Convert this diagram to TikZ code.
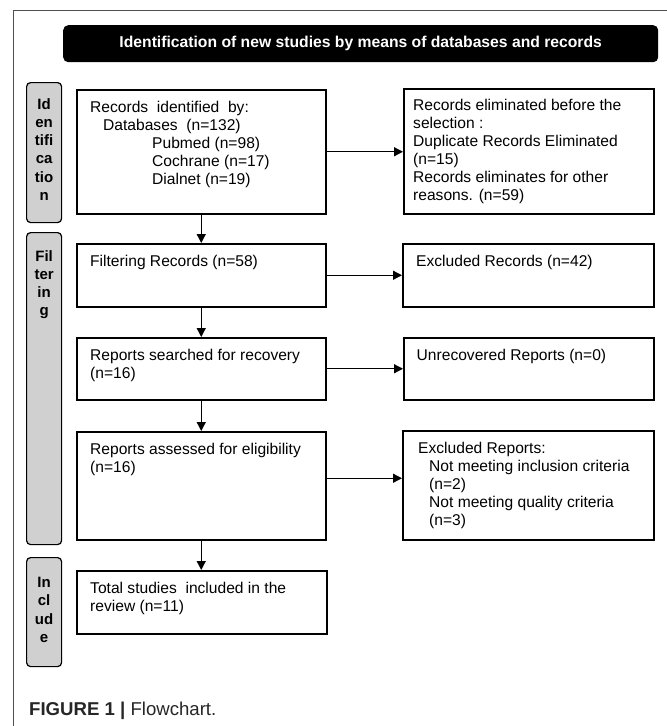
\documentclass[tikz,border=0pt]{standalone}
\usepackage{fontspec}
\setmainfont{Liberation Sans}
\usetikzlibrary{arrows.meta,calc}
\definecolor{phasegray}{HTML}{D0D0D0}
\definecolor{framegray}{HTML}{505050}
\tikzset{
  flowbox/.style={draw=black, line width=1.5pt, rectangle, anchor=north west, inner sep=0pt},
  phasebox/.style={draw=black, line width=1.2pt, fill=phasegray, rounded corners=4pt, rectangle, anchor=north west, inner sep=0pt, minimum width=35pt},
  bodytext/.style={anchor=north west, align=left, inner sep=0pt, font=\fontsize{15.6}{18}\selectfont},
  phasetext/.style={anchor=north, align=center, inner sep=0pt, font=\fontsize{15}{18.3}\selectfont\bfseries},
  flowarrow/.style={line width=1.3pt, -{Triangle[length=9pt,width=9pt]}},
}
\begin{document}
\begin{tikzpicture}[x=1pt,y=-1pt]
\useasboundingbox (0,0) rectangle (667,726);
% outer frame
\draw[framegray, line width=1pt] (13.5,726) -- (13.5,10) -- (667,10);
% header
\node[fill=black, rounded corners=5pt, anchor=north west, minimum width=595pt, minimum height=37pt, inner sep=0pt,
      text=white, font=\fontsize{15.7}{18}\selectfont\bfseries] (head) at (63,25)
      {Identification of new studies by means of databases and records};
% phase boxes
\node[phasebox, minimum height=140pt] (pid) at (26,82) {};
\node[phasebox, minimum height=312pt] (pfil) at (26,232) {};
\node[phasebox, minimum height=109pt] (pinc) at (26,557) {};
\node[phasetext] (tid) at ($(pid.north)+(0,16)$) {Id\\en\\tifi\\ca\\tio\\n};
\node[phasetext] (tfil) at ($(pfil.north)+(0,18)$) {Fil\\ter\\in\\g};
\node[phasetext] (tinc) at ($(pinc.north)+(0,20)$) {In\\cl\\ud\\e};
% main boxes
\node[flowbox, minimum width=249pt, minimum height=124pt] (rec) at (76,89) {};
\node[flowbox, minimum width=250pt, minimum height=125pt] (elim) at (403,88) {};
\node[flowbox, minimum width=249pt, minimum height=63pt] (filt) at (76,243) {};
\node[flowbox, minimum width=251pt, minimum height=63pt] (exrec) at (402,243) {};
\node[flowbox, minimum width=249pt, minimum height=62pt] (search) at (76,337) {};
\node[flowbox, minimum width=250pt, minimum height=62pt] (unrec) at (403,337) {};
\node[flowbox, minimum width=249pt, minimum height=108pt] (elig) at (76,431) {};
\node[flowbox, minimum width=251pt, minimum height=109pt] (exrep) at (402,430) {};
\node[flowbox, minimum width=250pt, minimum height=63pt] (total) at (76,570) {};
% texts
\node[bodytext] (trec) at (90,100.7) {Records~ identified~ by:\\
  \hspace*{13pt}Databases~ (n=132)\\
  \hspace*{62pt}Pubmed (n=98)\\
  \hspace*{62pt}Cochrane (n=17)\\
  \hspace*{62pt}Dialnet (n=19)};
\node[bodytext] (telim) at (413,98.7) {Records eliminated before the\\selection :\\Duplicate Records Eliminated\\(n=15)\\Records eliminates for other\\reasons. (n=59)};
\node[bodytext] (tfilt) at (90,254.7) {Filtering Records (n=58)};
\node[bodytext] (texrec) at (416,254.7) {Excluded Records (n=42)};
\node[bodytext] (tsearch) at (90,348.7) {Reports searched for recovery\\(n=16)};
\node[bodytext] (tunrec) at (416.5,348.7) {Unrecovered Reports (n=0)};
\node[bodytext] (telig) at (90,442.7) {Reports assessed for eligibility\\(n=16)};
\node[bodytext] (texrep) at (418,441.7) {Excluded Reports:\\
  \hspace*{11pt}Not meeting inclusion criteria\\
  \hspace*{11pt}(n=2)\\
  \hspace*{11pt}Not meeting quality criteria\\
  \hspace*{11pt}(n=3)};
\node[bodytext] (ttotal) at (90,581.7) {Total studies~ included in the\\review (n=11)};
% arrows
\draw[flowarrow] (rec.east) -- (rec.east -| elim.west);
\draw[flowarrow] (filt.east) -- (filt.east -| exrec.west);
\draw[flowarrow] (search.east) -- (search.east -| unrec.west);
\draw[flowarrow] ([yshift=7.5pt]elig.east) -- ([yshift=7.5pt]elig.east -| exrep.west);
\draw[flowarrow] (rec.south) -- (filt.north);
\draw[flowarrow] (filt.south) -- (search.north);
\draw[flowarrow] (search.south) -- (elig.north);
\draw[flowarrow] (elig.south) -- (elig.south |- total.north);
% caption
\node[anchor=base west, inner sep=0pt, text=black!85, font=\fontsize{18.6}{20}\selectfont] (cap) at (29,715)
  {\textbf{FIGURE 1} \textbf{|} Flowchart.};
\end{tikzpicture}
\end{document}
